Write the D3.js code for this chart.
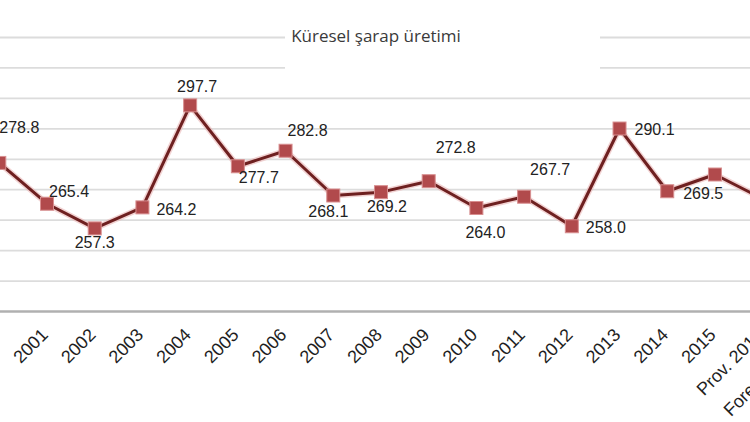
<!DOCTYPE html>
<html>
<head>
<meta charset="utf-8">
<script src="https://cdn.jsdelivr.net/npm/d3@7"></script>
<style>
  html, body { margin: 0; padding: 0; background: #fff; }
  svg { display: block; }
</style>
</head>
<body>
<svg id="chart" width="750" height="422"></svg>
<script>
// ---- data ----
const title = "Küresel şarap üretimi";
const categories = ["2000","2001","2002","2003","2004","2005","2006","2007","2008","2009",
                    "2010","2011","2012","2013","2014","2015","Prov. 2016","Forecast 2017"];
const production = [278.8,265.4,257.3,264.2,297.7,277.7,282.8,268.1,269.2,272.8,
                    264.0,267.7,258.0,290.1,269.5,275.0,267.0,246.7];
const gridValues = [240,250,260,270,280,290,300,310,320];
// data-label placement relative to its marker
const labelDx = [20,22,0,34,7,21,22,-5,6,27,9,26,34,35,36,60,36,36];
const labelDy = [-35,-12,14,2,-19,11,-20,16,14,-34,25,-27,1,1,2,-20,2,2];

const W = 750, H = 422;
const svg = d3.select("#chart");

const x = d3.scalePoint().domain(categories).range([-0.7, -0.7 + 17 * 47.71]);
const y = d3.scaleLinear().domain([230, 320]).range([311.5, 37.5]);

// gridlines
svg.append("g").selectAll("line").data(gridValues).join("line")
  .attr("x1", 0).attr("x2", W)
  .attr("y1", d => y(d)).attr("y2", d => y(d))
  .attr("stroke", "#dcdcdc").attr("stroke-width", 1.8);

// title background + title
svg.append("rect").attr("x", 285).attr("y", 18).attr("width", 315).attr("height", 62).attr("fill", "#fff");
svg.append("text").attr("x", 376).attr("y", 42)
  .attr("text-anchor", "middle")
  .attr("font-family", "Open Sans, sans-serif").attr("font-size", 17)
  .attr("fill", "#3a3a3a").text(title);

// x axis
const xAxis = d3.axisBottom(x).tickSize(0).tickPadding(0);
const gx = svg.append("g").attr("transform", `translate(0,${y(230)})`).call(xAxis);
gx.select(".domain").attr("stroke", "#b0b0b0").attr("stroke-width", 2.6)
  .attr("d", `M-10,0H${W + 100}`);
gx.selectAll(".tick text")
  .attr("font-family", "Liberation Sans, Arial, sans-serif").attr("font-size", 18)
  .attr("fill", "#1e1e1e").attr("text-anchor", "end")
  .attr("y", 0).attr("dy", 0)
  .attr("transform", "translate(1.5,24.5) rotate(-45)");

// line
const line = d3.line().x((d, i) => x(categories[i])).y(d => y(d));
svg.append("path").datum(production).attr("d", line)
  .attr("fill", "none").attr("stroke", "#e9b5b5").attr("stroke-width", 6).attr("stroke-opacity", 0.6)
  .attr("stroke-linejoin", "round");
svg.append("path").datum(production).attr("d", line)
  .attr("fill", "none").attr("stroke", "#6e2020").attr("stroke-width", 3)
  .attr("stroke-linejoin", "round");

// markers
const ms = 13;
svg.append("g").selectAll("rect").data(production).join("rect")
  .attr("x", (d, i) => x(categories[i]) - ms / 2)
  .attr("y", d => y(d) - ms / 2)
  .attr("width", ms).attr("height", ms)
  .attr("fill", "#b14a4c").attr("stroke", "#d88f90").attr("stroke-width", 1);

// data labels
svg.append("g").selectAll("text").data(production).join("text")
  .attr("x", (d, i) => x(categories[i]) + labelDx[i])
  .attr("y", (d, i) => y(d) + labelDy[i])
  .attr("text-anchor", "middle").attr("dominant-baseline", "central")
  .attr("font-family", "Liberation Sans, Arial, sans-serif").attr("font-size", 16)
  .attr("fill", "#222")
  .text(d => d.toFixed(1));
</script>
</body>
</html>
